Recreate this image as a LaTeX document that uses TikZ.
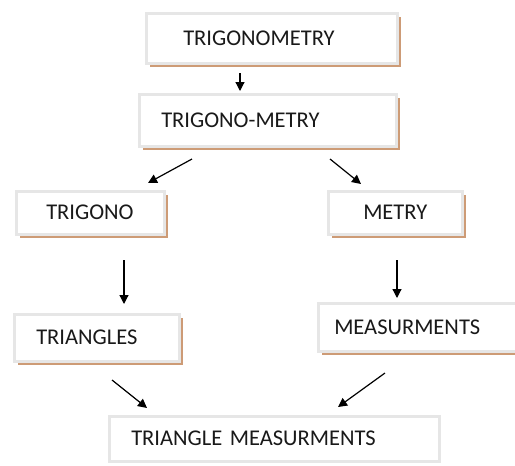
\documentclass[tikz,border=0pt]{standalone}
\usepackage{fontspec}
\setmainfont{Carlito}
\usetikzlibrary{arrows.meta,shadows}
\definecolor{shadowbrown}{RGB}{205,155,118}
\definecolor{edgegray}{RGB}{230,230,230}
\definecolor{txtcol}{RGB}{25,25,25}
\tikzset{
  boxnode/.style={rectangle, fill=white, draw=edgegray, line width=2.5pt,
    anchor=north west, align=left, inner ysep=0pt,
    font=\fontsize{22.5}{26}\selectfont, text=txtcol},
  brownshadow/.style={drop shadow={shadow xshift=3.8pt, shadow yshift=-3.8pt, fill=shadowbrown, opacity=1}},
  arr/.style={-{Triangle[length=9pt,width=9pt]}, line width=1.2pt, black}
}
\begin{document}
\begin{tikzpicture}[x=1pt,y=-1pt]
\useasboundingbox (0,0) rectangle (515,466);
\fill[white] (0,0) rectangle (515,466);
% boxes
\node[boxnode, brownshadow, text width=177pt, inner xsep=37pt, minimum height=50pt] (b1) at (145,12) {TRIGONOMETRY};
\node[boxnode, brownshadow, text width=213pt, inner xsep=22pt, minimum height=52pt] (b2) at (138,93) {TRIGONO-METRY};
\node[boxnode, brownshadow, text width=88pt, inner xsep=30pt, minimum height=43pt] (b3) at (15,190) {TRIGONO};
\node[boxnode, brownshadow, text width=64pt, inner xsep=35pt, minimum height=43pt] (b4) at (327,190) {METRY};
\node[boxnode, brownshadow, text width=121pt, inner xsep=22pt, minimum height=47pt] (b5) at (13,313) {TRIANGLES};
\node[boxnode, brownshadow, text width=168pt, inner xsep=16pt, minimum height=48pt] (b6) at (317,302) {MEASURMENTS};
\node[boxnode, text width=286pt, inner xsep=22pt, minimum height=45pt] (b7) at (108,415) {TRIANGLE MEASURMENTS};
% arrow end points
\coordinate (a1s) at (240,73);  \coordinate (a1e) at (240,91);
\coordinate (a2s) at (192,159); \coordinate (a2e) at (148,183);
\coordinate (a3s) at (330,159); \coordinate (a3e) at (361,184);
\coordinate (a4s) at (124,260); \coordinate (a4e) at (124,304);
\coordinate (a5s) at (397,260); \coordinate (a5e) at (397,298);
\coordinate (a6s) at (112,380); \coordinate (a6e) at (147,408);
\coordinate (a7s) at (385,373); \coordinate (a7e) at (338,407);
\draw[arr] (a1s) -- (a1e);
\draw[arr] (a2s) -- (a2e);
\draw[arr] (a3s) -- (a3e);
\draw[arr] (a4s) -- (a4e);
\draw[arr] (a5s) -- (a5e);
\draw[arr] (a6s) -- (a6e);
\draw[arr] (a7s) -- (a7e);
\end{tikzpicture}
\end{document}
